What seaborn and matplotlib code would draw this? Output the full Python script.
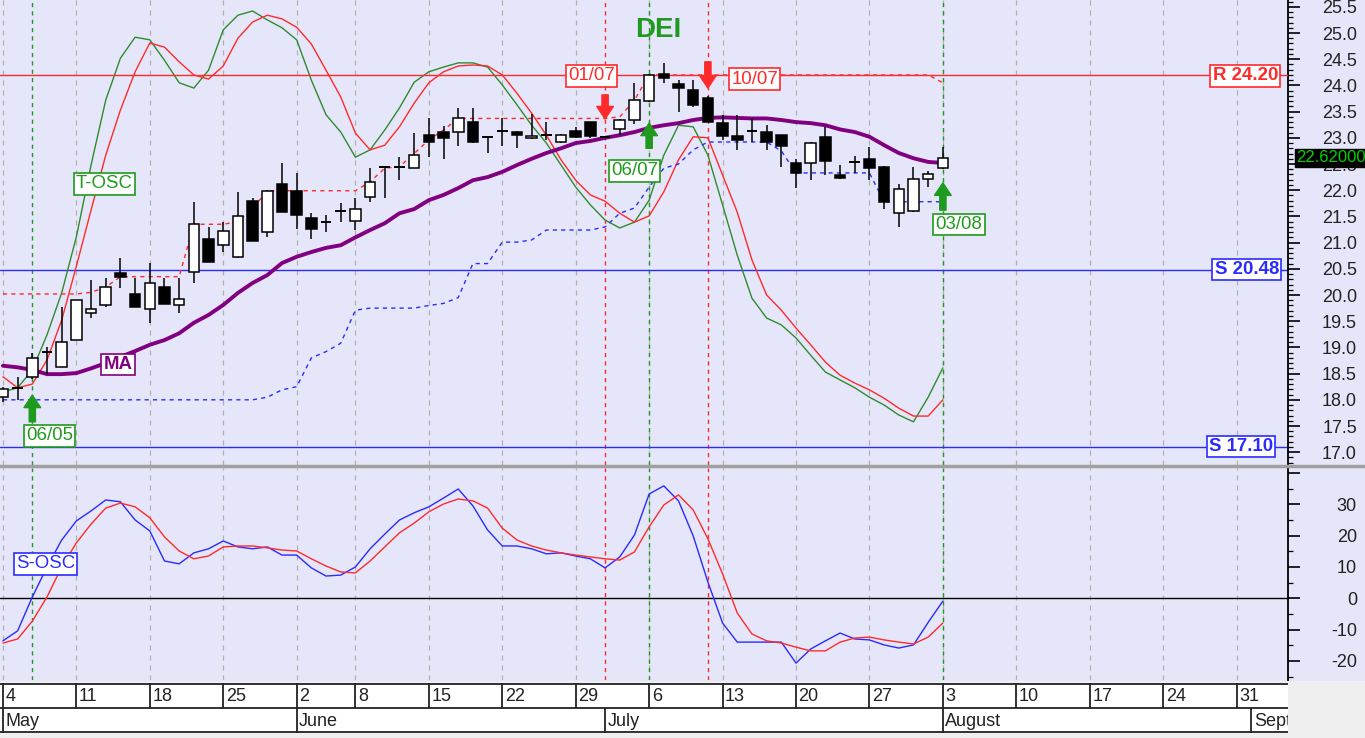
import numpy as np
import pandas as pd
import matplotlib
matplotlib.use("Agg")
import matplotlib.pyplot as plt
from matplotlib.ticker import MultipleLocator, FuncFormatter
from matplotlib.lines import Line2D
from matplotlib.patches import Rectangle
import seaborn as sns

# ---- data (one value per trading day, 4 May -> 3 Aug) ----
opens = [18.05, 18.22, 18.44, 18.91, 18.63, 19.14, 19.66, 19.81, 20.42, 20.02,
         19.73, 20.15, 19.81, 20.44, 21.07, 20.95, 20.72, 21.79, 21.20, 22.12,
         21.99, 21.47, 21.40, 21.60, 21.41, 21.87, 22.45, 22.44, 22.42, 23.05,
         23.11, 23.11, 23.30, 23.01, 23.13, 23.11, 23.00, 23.05, 22.92, 23.13,
         23.30, 23.02, 23.17, 23.34, 23.70, 24.22, 24.03, 23.91, 23.76, 23.28,
         23.03, 23.13, 23.11, 23.05, 22.52, 22.52, 23.02, 22.29, 22.54, 22.60,
         22.44, 21.56, 21.60, 22.21, 22.42]
highs = [18.25, 18.44, 18.90, 19.00, 19.77, 19.90, 20.29, 20.32, 20.70, 20.32,
         20.61, 20.32, 20.32, 21.78, 21.30, 21.39, 21.97, 21.85, 22.00, 22.51,
         22.33, 21.57, 21.53, 21.75, 21.85, 22.42, 22.47, 22.63, 23.09, 23.37,
         23.23, 23.57, 23.57, 23.02, 23.37, 23.13, 23.45, 23.30, 23.07, 23.21,
         23.30, 23.04, 23.36, 24.05, 24.22, 24.43, 24.10, 24.10, 23.80, 23.44,
         23.44, 23.37, 23.24, 23.06, 22.60, 22.92, 23.21, 22.48, 22.65, 22.83,
         22.46, 22.12, 22.44, 22.37, 22.83]
lows = [17.95, 18.00, 18.40, 18.50, 18.63, 19.14, 19.56, 19.78, 20.13, 19.77,
        19.46, 19.83, 19.66, 20.23, 20.63, 20.82, 20.70, 21.03, 21.11, 21.58,
        21.26, 21.06, 21.20, 21.39, 21.24, 21.77, 21.85, 22.19, 22.42, 22.63,
        22.60, 22.84, 22.90, 22.71, 22.84, 22.80, 22.98, 22.96, 22.90, 23.00,
        23.00, 23.00, 23.05, 23.26, 23.68, 24.05, 23.49, 23.59, 23.30, 22.96,
        22.77, 22.92, 22.77, 22.44, 22.04, 22.19, 22.29, 22.22, 22.33, 22.19,
        21.64, 21.30, 21.58, 22.06, 22.40]
closes = [18.20, 18.22, 18.80, 18.91, 19.10, 19.90, 19.73, 20.15, 20.34, 19.77,
          20.23, 19.83, 19.92, 21.35, 20.63, 21.22, 21.51, 21.03, 21.99, 21.58,
          21.53, 21.26, 21.40, 21.60, 21.64, 22.16, 22.45, 22.44, 22.67, 22.92,
          23.00, 23.37, 22.92, 23.01, 23.13, 23.05, 23.03, 23.05, 23.05, 23.01,
          23.03, 23.02, 23.34, 23.72, 24.20, 24.14, 23.95, 23.63, 23.30, 23.03,
          22.96, 23.13, 22.92, 22.84, 22.33, 22.90, 22.56, 22.23, 22.54, 22.42,
          21.78, 22.02, 22.21, 22.31, 22.62]
ma = [18.65, 18.62, 18.57, 18.49, 18.49, 18.51, 18.60, 18.70, 18.82, 18.93,
      19.05, 19.14, 19.27, 19.47, 19.62, 19.81, 20.04, 20.23, 20.38, 20.61,
      20.73, 20.82, 20.90, 20.95, 21.10, 21.24, 21.37, 21.56, 21.64, 21.81,
      21.91, 22.04, 22.19, 22.25, 22.35, 22.48, 22.60, 22.71, 22.80, 22.90,
      22.94, 23.00, 23.05, 23.11, 23.19, 23.24, 23.28, 23.34, 23.38, 23.39,
      23.38, 23.37, 23.37, 23.34, 23.30, 23.28, 23.24, 23.16, 23.11, 23.02,
      22.86, 22.71, 22.61, 22.54, 22.52]
support_trail = [18.00] * 18 + [18.05, 18.19, 18.25, 18.80, 18.92, 19.08, 19.71,
                 19.75, 19.75, 19.75, 19.75, 19.80, 19.84, 19.95, 20.60, 20.60,
                 21.01, 21.01, 21.05, 21.24, 21.24, 21.24, 21.24, 21.30, 21.56,
                 21.66, 22.06, 22.42, 22.50, 22.77, 22.92, 22.92, 22.92, 22.92,
                 22.92, 22.75, 22.33, 22.33, 22.33, 22.33, 22.33, 22.33, 21.78,
                 21.78, 21.78, 21.78, 21.78]
resist_trail = [20.02] * 6 + [20.05, 20.15] + [20.35] * 5 + [21.35, 21.35, 21.35,
                21.40, 21.65] + [21.99] * 7 + [22.16, 22.42, 22.45, 22.70, 22.96,
                23.15] + [23.37] * 11 + [23.40, 23.72] + [24.20] * 20 + [24.05]
tosc_fast = [18.15, 18.23, 18.57, 19.24, 20.04, 21.11, 22.48, 23.72, 24.52, 24.92,
             24.87, 24.48, 24.05, 23.95, 24.29, 25.06, 25.34, 25.42, 25.25, 25.10,
             24.87, 24.10, 23.44, 23.11, 22.63, 22.77, 23.15, 23.57, 24.06, 24.26,
             24.35, 24.43, 24.43, 24.35, 24.01, 23.63, 23.24, 22.90, 22.48, 22.06,
             21.72, 21.43, 21.28, 21.39, 21.81, 22.67, 23.24, 23.21, 22.67, 21.72,
             20.76, 19.94, 19.56, 19.43, 19.18, 18.85, 18.53, 18.38, 18.23, 18.05,
             17.90, 17.71, 17.58, 18.05, 18.61]
tosc_slow = [18.44, 18.23, 18.30, 18.76, 19.52, 20.55, 21.62, 22.67, 23.53, 24.26,
             24.81, 24.73, 24.45, 24.20, 24.12, 24.37, 24.90, 25.21, 25.34, 25.27,
             25.11, 24.79, 24.29, 23.78, 23.09, 22.77, 22.86, 23.21, 23.66, 24.05,
             24.26, 24.37, 24.39, 24.37, 24.20, 23.85, 23.47, 23.05, 22.58, 22.19,
             21.91, 21.79, 21.56, 21.39, 21.51, 21.97, 22.58, 23.02, 23.00, 22.29,
             21.58, 20.67, 20.00, 19.71, 19.37, 19.05, 18.72, 18.47, 18.32, 18.19,
             18.03, 17.84, 17.69, 17.69, 18.00]
sosc_fast = [-13.6, -10.4, 0.4, 10.0, 18.6, 24.7, 27.9, 31.4, 30.8, 25.0,
             21.5, 11.9, 11.0, 14.5, 15.8, 18.3, 16.4, 15.8, 16.4, 13.8,
             13.8, 9.7, 7.1, 7.4, 10.0, 15.8, 20.5, 25.0, 27.3, 29.2,
             32.0, 34.9, 29.5, 21.8, 16.7, 16.7, 15.8, 14.2, 14.5, 13.5,
             12.6, 9.7, 13.2, 20.2, 33.3, 35.9, 31.1, 19.9, 5.2, -7.9,
             -14.0, -14.0, -14.0, -14.0, -20.7, -16.2, -13.6, -11.1, -13.0, -13.3,
             -14.9, -15.9, -14.9, -7.7, -0.9]
sosc_slow = [-14.3, -13.0, -7.3, 0.4, 10.0, 17.7, 23.7, 28.8, 30.4, 29.2,
             25.7, 19.6, 15.1, 12.6, 13.5, 16.4, 16.7, 16.7, 16.1, 15.4,
             15.1, 12.6, 10.3, 8.4, 8.1, 11.9, 16.4, 20.9, 24.0, 27.6,
             30.1, 31.7, 31.1, 28.8, 22.4, 18.6, 16.7, 15.4, 14.5, 13.8,
             13.2, 12.6, 12.2, 14.8, 22.8, 29.8, 33.0, 28.2, 19.0, 7.8,
             -4.7, -11.4, -13.6, -14.3, -15.6, -16.8, -16.8, -14.0, -12.7, -12.4,
             -13.3, -14.0, -14.6, -12.4, -7.9]

week_idx = [0, 5, 10, 15, 20, 24, 29, 34, 39, 44, 49, 54, 59, 64, 69, 74, 79, 84]
week_labels = ["4", "11", "18", "25", "2", "8", "15", "22", "29", "6", "13", "20",
               "27", "3", "10", "17", "24", "31"]
month_idx = [0, 20, 41, 64, 85]
month_labels = ["May", "June", "July", "August", "September"]

resistance = 24.20
supports = [20.48, 17.10]
buy_signals = {2: "06/05", 44: "06/07", 64: "03/08"}
sell_signals = {41: "01/07", 48: "10/07"}
last_price = 22.62

df = pd.DataFrame({"day": np.arange(len(closes)), "open": opens, "high": highs,
                   "low": lows, "close": closes, "ma": ma,
                   "sup": support_trail, "res": resist_trail,
                   "t_fast": tosc_fast, "t_slow": tosc_slow,
                   "s_fast": sosc_fast, "s_slow": sosc_slow})

# ---- style ----
sns.set_theme(style="white")
plt.rcParams["font.family"] = ["Liberation Sans", "DejaVu Sans"]

LAV = "#E6E6FA"
GREEN = "#1E9A1E"
RED = "#FF2A2A"
BLUE = "#2B2BFF"
PURPLE = "#800080"

W, H = 1365, 738
fig = plt.figure(figsize=(13.65, 7.38), dpi=100, facecolor=LAV)
fig.patches.append(Rectangle((0, 0), 1, 1 - 681 / H, transform=fig.transFigure,
                             fc="#EFEFEF", ec="none", zorder=-5))

ax = fig.add_axes([0, 1 - 465 / H, 1288 / W, 465 / H])
ax2 = fig.add_axes([0, 1 - 680 / H, 1288 / W, 212 / H])
axd = fig.add_axes([0, 1 - 733 / H, 1288 / W, 50 / H])

XMIN, XMAX = -0.2, 87.5
for a in (ax, ax2):
    a.set_facecolor(LAV)
    a.set_xlim(XMIN, XMAX)
    for s in ("top", "left", "bottom"):
        a.spines[s].set_visible(False)
    a.spines["right"].set_color("black")
    a.spines["right"].set_linewidth(1.3)
    for w in week_idx:
        a.axvline(w, color="#B0B0B0", lw=0.9, ls=(0, (4, 4)), zorder=1)
    for d in buy_signals:
        a.axvline(d, color=GREEN, lw=1.0, ls=(0, (3, 3)), zorder=2)
    for d in sell_signals:
        a.axvline(d, color=RED, lw=1.0, ls=(0, (3, 3)), zorder=2)

# ---- main price panel ----
ax.set_ylim(16.756, 25.63)
ax.axhline(resistance, color=RED, lw=1.0, zorder=3.5)
for s in supports:
    ax.axhline(s, color=BLUE, lw=1.0, zorder=2)

sns.lineplot(data=df, x="day", y="t_fast", ax=ax, color="#2E8B2E", lw=1.0, zorder=3)
sns.lineplot(data=df, x="day", y="t_slow", ax=ax, color=RED, lw=1.0, zorder=3)
sns.lineplot(data=df, x="day", y="sup", ax=ax, color=BLUE, lw=1.0,
             ls=(0, (3, 3)), zorder=3)
sns.lineplot(data=df, x="day", y="res", ax=ax, color=RED, lw=1.0,
             ls=(0, (3, 3)), zorder=3)
sns.lineplot(data=df, x="day", y="ma", ax=ax, color=PURPLE, lw=2.8, zorder=4)

# candles
up = df["close"] >= df["open"]
ax.vlines(df["day"], df["low"], df["high"], color="black", lw=1.1, zorder=5)
body_lo = df[["open", "close"]].min(axis=1)
body_h = (df["close"] - df["open"]).abs()
solid = body_h >= 0.02
ax.bar(df["day"][solid], body_h[solid], bottom=body_lo[solid], width=0.72,
       color=np.where(up[solid], "white", "black"), edgecolor="black",
       linewidth=1.1, zorder=6)
doji = ~solid
ax.hlines(df["close"][doji], df["day"][doji] - 0.36, df["day"][doji] + 0.36,
          color="black", lw=1.4, zorder=6)

# signal arrows
arrow = "simple,head_length=0.9,head_width=1.2,tail_width=0.45"
ax.annotate("", xy=(2, 18.09), xytext=(2, 17.58),
            arrowprops=dict(arrowstyle=arrow, color=GREEN, shrinkA=0, shrinkB=0,
                            mutation_scale=10), zorder=8)
ax.annotate("", xy=(44, 23.28), xytext=(44, 22.80),
            arrowprops=dict(arrowstyle=arrow, color=GREEN, shrinkA=0, shrinkB=0,
                            mutation_scale=10), zorder=8)
ax.annotate("", xy=(64, 22.14), xytext=(64, 21.62),
            arrowprops=dict(arrowstyle=arrow, color=GREEN, shrinkA=0, shrinkB=0,
                            mutation_scale=10), zorder=8)
ax.annotate("", xy=(41, 23.36), xytext=(41, 23.82),
            arrowprops=dict(arrowstyle=arrow, color=RED, shrinkA=0, shrinkB=0,
                            mutation_scale=10), zorder=8)
ax.annotate("", xy=(48, 23.95), xytext=(48, 24.45),
            arrowprops=dict(arrowstyle=arrow, color=RED, shrinkA=0, shrinkB=0,
                            mutation_scale=10), zorder=8)


def tag(a, x, y, s, color, weight="normal", size=13.4):
    a.text(x, y, s, color=color, fontsize=size, fontweight=weight,
           ha="center", va="center", zorder=9,
           bbox=dict(boxstyle="square,pad=0.12", fc="white", ec=color, lw=1.2))


tag(ax, 3.17, 17.31, "06/05", GREEN)
tag(ax, 43.0, 22.37, "06/07", GREEN)
tag(ax, 65.1, 21.35, "03/08", GREEN)
tag(ax, 40.1, 24.18, "01/07", RED)
tag(ax, 51.2, 24.12, "10/07", RED)
tag(ax, 6.9, 22.12, "T-OSC", GREEN)
tag(ax, 7.83, 18.67, "MA", PURPLE, weight="bold")
tag(ax, 84.6, 24.18, "R 24.20", RED, weight="bold")
tag(ax, 84.7, 20.49, "S 20.48", BLUE, weight="bold")
tag(ax, 84.3, 17.11, "S 17.10", BLUE, weight="bold")
ax.text(44.6, 25.06, "DEI", color=GREEN, fontsize=20, fontweight="bold",
        ha="center", va="center", zorder=9)
ax.text(1296 / 1288, last_price, "22.62000", transform=ax.get_yaxis_transform(),
        color="#00D000", fontsize=12, ha="left", va="center", clip_on=False,
        zorder=10, bbox=dict(boxstyle="square,pad=0.08", fc="black", ec="black"))

ax.yaxis.set_major_locator(MultipleLocator(0.5))
ax.yaxis.set_minor_locator(MultipleLocator(0.1))
ax.yaxis.set_major_formatter(FuncFormatter(lambda v, p: f"{v:.1f}"))

# ---- S-OSC panel ----
ax2.set_ylim(-26.1, 41.6)
ax2.axhline(0, color="black", lw=1.0, zorder=2)
sns.lineplot(data=df, x="day", y="s_fast", ax=ax2, color=BLUE, lw=1.0, zorder=3)
sns.lineplot(data=df, x="day", y="s_slow", ax=ax2, color=RED, lw=1.0, zorder=3)
tag(ax2, 2.9, 11.0, "S-OSC", BLUE)
ax2.yaxis.set_major_locator(MultipleLocator(10))
ax2.yaxis.set_minor_locator(MultipleLocator(5))
ax2.yaxis.set_major_formatter(FuncFormatter(lambda v, p: "" if v > 35 else f"{v:.0f}"))

for a in (ax, ax2):
    a.set_xlabel("")
    a.set_ylabel("")
    a.set_xticks([])
    a.yaxis.tick_right()
    a.tick_params(axis="y", which="major", length=8.6, width=1.2, direction="out",
                  colors="black", labelcolor="#222222", labelsize=13, pad=41)
    a.tick_params(axis="y", which="minor", length=3.6, width=0.9, direction="out",
                  colors="black")
    for lab in a.get_yticklabels():
        lab.set_horizontalalignment("right")

# ---- date axis ----
axd.set_xlim(XMIN, XMAX)
axd.set_ylim(0, 2)
axd.set_facecolor("white")
for s in axd.spines.values():
    s.set_visible(False)
axd.set_xticks([])
axd.set_yticks([])
for yy in (1.98, 1, 0.03):
    axd.hlines(yy, XMIN, XMAX, color="#222222", lw=1.3)
for w, lab in zip(week_idx, week_labels):
    axd.vlines(w, 1, 2, color="#222222", lw=1.3)
    axd.text(w + 0.17, 1.45, lab, fontsize=13, ha="left", va="center",
             color="#222222", clip_on=True)
for m, lab in zip(month_idx, month_labels):
    axd.vlines(m, 0, 1, color="#222222", lw=1.3)
    axd.text(m + 0.17, 0.45, lab, fontsize=13, ha="left", va="center",
             color="#222222", clip_on=True)

# separator between panels
fig.add_artist(Line2D([0, 1], [1 - 466 / H, 1 - 466 / H], transform=fig.transFigure,
                      color="#A0A0A0", lw=2.5))

fig.savefig("out.png", dpi=100, facecolor=fig.get_facecolor())
